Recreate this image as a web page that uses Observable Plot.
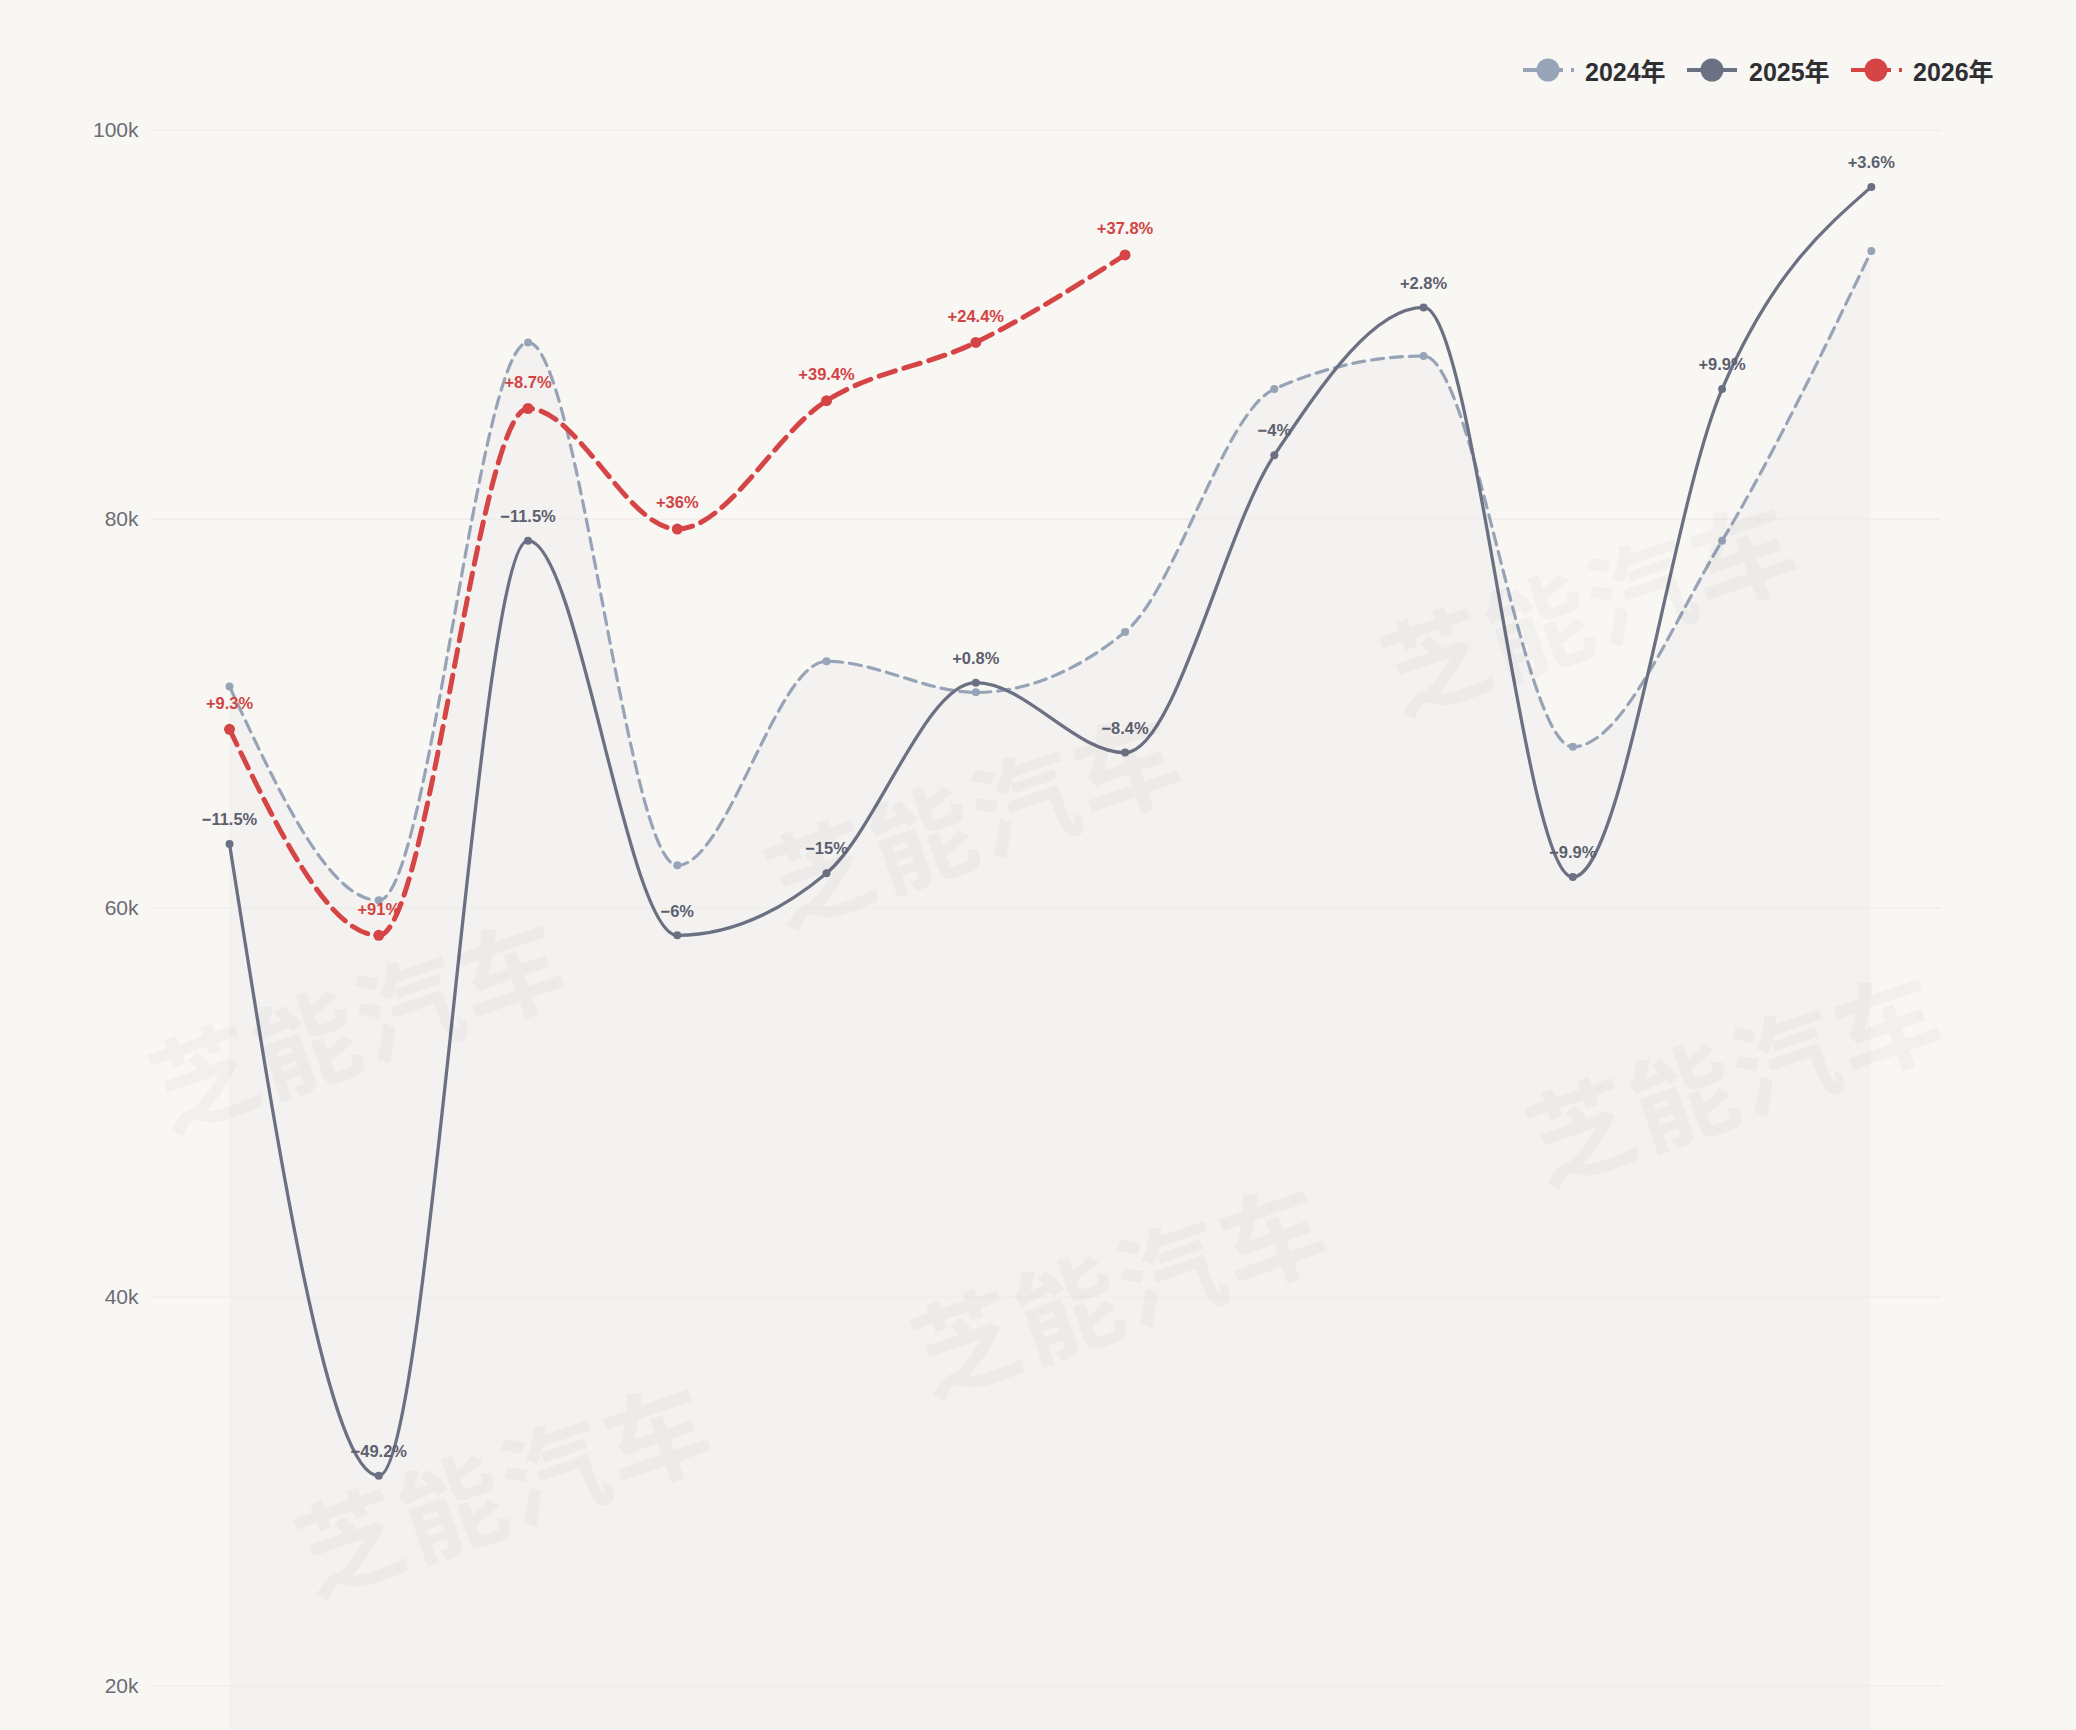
<!DOCTYPE html>
<html>
<head>
<meta charset="utf-8">
<script src="https://cdn.jsdelivr.net/npm/d3@7"></script>
<script src="https://cdn.jsdelivr.net/npm/@observablehq/plot@0.6"></script>
<style>
  html, body { margin: 0; padding: 0; background: #f8f7f4; }
  #wrap { position: relative; width: 2076px; height: 1730px; overflow: hidden; background: #f8f7f4;
    font-family: "Liberation Sans", "Helvetica", "Noto Sans CJK SC", sans-serif; }
  #legend { position: relative; height: 100px; }
  .lg { position: absolute; top: 54px; height: 32px; display: flex; align-items: center; }
  .lg span { font-family: "Liberation Sans", "Noto Sans CJK SC", sans-serif; font-weight: 700; font-size: 25px; color: #2f2f33; margin-left: 10px; }
  .wm { position: absolute; font-family: "Noto Sans CJK SC", sans-serif; font-weight: 700; font-size: 104px;
    color: rgba(0,0,0,0.028); transform: translate(-50%, -50%) rotate(-19deg); white-space: nowrap; pointer-events: none; letter-spacing: 4px; }
  #chart svg { display: block; }
</style>
</head>
<body>
<div id="wrap">
  <div id="legend"></div>
  <div id="chart"></div>
</div>
<script>
// ---- data ----
const months = [1, 2, 3, 4, 5, 6, 7, 8, 9, 10, 11, 12];
const sales2024 = [71400, 60400, 89100, 62200, 72700, 71100, 74200, 86700, 88400, 68300, 78900, 93800];
const sales2025 = [63300, 30800, 78900, 58600, 61800, 71600, 68000, 83300, 90900, 61600, 86700, 97100];
const sales2026 = [69200, 58600, 85700, 79500, 86100, 89100, 93600];
const yoy2025 = ["−11.5%", "−49.2%", "−11.5%", "−6%", "−15%", "+0.8%", "−8.4%", "−4%", "+2.8%", "−9.9%", "+9.9%", "+3.6%"];
const yoy2026 = ["+9.3%", "+91%", "+8.7%", "+36%", "+39.4%", "+24.4%", "+37.8%"];
const yTicks = [20000, 40000, 60000, 80000, 100000];
const seriesNames = ["2024年", "2025年", "2026年"];
const seriesColors = ["#97a3b6", "#6b7083", "#d64545"];
const watermark = "芝能汽车";

// ---- tables ----
const rows2024 = months.map((m, i) => ({month: m, value: sales2024[i]}));
const rows2025 = months.map((m, i) => ({month: m, value: sales2025[i], label: yoy2025[i]}));
const rows2026 = sales2026.map((v, i) => ({month: months[i], value: v, label: yoy2026[i]}));

const FONT = "'Liberation Sans', Helvetica, 'Noto Sans CJK SC', sans-serif";

const chart = Plot.plot({
  width: 2076,
  height: 1630,
  marginLeft: 152,
  marginRight: 135,
  marginTop: 30,
  marginBottom: 0,
  style: { background: "transparent", fontFamily: FONT, overflow: "visible" },
  x: { domain: [0.484, 12.47], axis: null },
  y: { domain: [17700, 100000], axis: null },
  marks: [
    Plot.areaY(rows2024, { x: "month", y1: 17700, y2: "value", curve: "monotone-x", fill: "#f3f2f0", clip: true }),
    Plot.ruleY(yTicks, { stroke: "#efeeea", strokeWidth: 1.5 }),
    Plot.axisY(yTicks, { tickSize: 0, tickPadding: 14, tickFormat: d => d / 1000 + "k", fontSize: 21, fill: "#6c6c74", label: null }),
    Plot.line(rows2024, { x: "month", y: "value", curve: "monotone-x", stroke: seriesColors[0], strokeWidth: 3.2, strokeDasharray: "12,7" }),
    Plot.line(rows2025, { x: "month", y: "value", curve: "monotone-x", stroke: seriesColors[1], strokeWidth: 3.3 }),
    Plot.line(rows2026, { x: "month", y: "value", curve: "monotone-x", stroke: seriesColors[2], strokeWidth: 5, strokeDasharray: "17,9" }),
    Plot.dot(rows2024, { x: "month", y: "value", r: 4, fill: seriesColors[0], stroke: "none" }),
    Plot.dot(rows2025, { x: "month", y: "value", r: 4, fill: seriesColors[1], stroke: "none" }),
    Plot.dot(rows2026, { x: "month", y: "value", r: 5.5, fill: seriesColors[2], stroke: "none" }),
    Plot.text(rows2025, { x: "month", y: "value", text: "label", dy: -24, fontSize: 16.5, fontWeight: 600, fill: "#5c606e" }),
    Plot.text(rows2026, { x: "month", y: "value", text: "label", dy: -26, fontSize: 16.5, fontWeight: 600, fill: "#d24444" })
  ]
});
document.getElementById("chart").appendChild(chart);

// ---- legend ----
const legend = document.getElementById("legend");
const legendLeft = [1523, 1687, 1851];
const dashed = [true, false, true];
seriesNames.forEach((name, i) => {
  const item = document.createElement("div");
  item.className = "lg";
  item.style.left = legendLeft[i] + "px";
  const c = seriesColors[i];
  item.innerHTML =
    `<svg width="52" height="32" viewBox="0 0 52 32">
       <line x1="0" y1="16" x2="40" y2="16" stroke="${c}" stroke-width="4"/>
       ${dashed[i] ? `<line x1="48" y1="16" x2="51" y2="16" stroke="${c}" stroke-width="4"/>` : `<line x1="40" y1="16" x2="50" y2="16" stroke="${c}" stroke-width="4"/>`}
       <circle cx="25" cy="16" r="11.5" fill="${c}"/>
     </svg><span>${name}</span>`;
  legend.appendChild(item);
});

// ---- watermarks ----
const wmCenters = [[357, 1019], [973, 814], [1589, 602], [503, 1483], [1119, 1284], [1734, 1072]];
const wrap = document.getElementById("wrap");
wmCenters.forEach(([x, y]) => {
  const d = document.createElement("div");
  d.className = "wm";
  d.style.left = x + "px";
  d.style.top = y + "px";
  d.textContent = watermark;
  wrap.appendChild(d);
});
</script>
</body>
</html>
